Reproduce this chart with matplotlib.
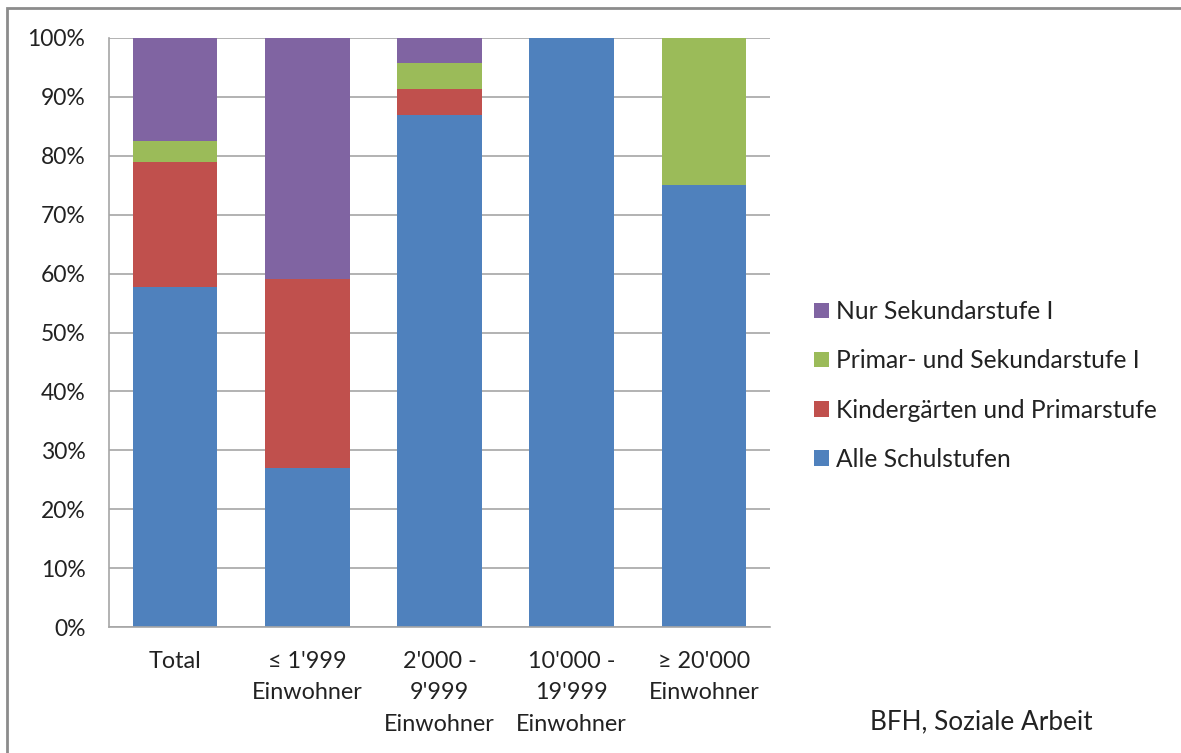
import matplotlib.pyplot as plt
from matplotlib.patches import Rectangle

plt.rcParams["font.family"] = ["Lato", "DejaVu Sans"]

# Data (shares in %)
categories = ["Total", "≤ 1'999\nEinwohner", "2'000 -\n9'999\nEinwohner",
              "10'000 -\n19'999\nEinwohner", "≥ 20'000\nEinwohner"]
alle = [57.7, 27.0, 86.9, 100.0, 75.0]
kinder = [21.2, 32.1, 4.4, 0.0, 0.0]
primar_sek = [3.6, 0.0, 4.5, 0.0, 25.0]
nur_sek = [17.5, 40.9, 4.2, 0.0, 0.0]

series = [
    ("Alle Schulstufen", alle, "#4f81bd"),
    ("Kindergärten und Primarstufe", kinder, "#c0504d"),
    ("Primar- und Sekundarstufe I", primar_sek, "#9bbb59"),
    ("Nur Sekundarstufe I", nur_sek, "#8064a2"),
]

fig = plt.figure(figsize=(11.81, 7.53), dpi=100)
ax = fig.add_axes([109 / 1181, 1 - 627 / 753, (770 - 109) / 1181, (627 - 38) / 753])

x = range(len(categories))
bottom = [0.0] * len(categories)
for name, vals, color in series:
    ax.bar(x, vals, width=0.64, bottom=bottom, color=color, label=name, zorder=2)
    bottom = [b + v for b, v in zip(bottom, vals)]

ax.set_xlim(-0.5, 4.5)
ax.set_ylim(0, 100)
ax.set_yticks(range(0, 101, 10))
ax.set_yticklabels([f"{t}%" for t in range(0, 101, 10)], fontsize=16.5)
ax.set_xticks(list(x))
ax.set_xticklabels(categories, linespacing=1.63, va="top", fontsize=16.8)
ax.tick_params(length=0, colors="#222222")
ax.tick_params(axis="y", pad=17)
ax.tick_params(axis="x", pad=17)
ax.yaxis.grid(True, color="#a6a6a6", linewidth=1.2, zorder=0)
for s in ["top", "right"]:
    ax.spines[s].set_visible(False)
for s in ["left", "bottom"]:
    ax.spines[s].set_color("#a6a6a6")
    ax.spines[s].set_linewidth(1.2)

handles, labels = ax.get_legend_handles_labels()
ax.legend(handles[::-1], labels[::-1], loc="center left", bbox_to_anchor=(1.033, 0.41),
          frameon=False, fontsize=17.7, handlelength=0.6, handleheight=0.6,
          handletextpad=0.3, labelspacing=1.07, labelcolor="#222222")

fig.text(870 / 1181, 1 - 722 / 753, "BFH, Soziale Arbeit", fontsize=18.8,
         color="#222222", va="center", ha="left")

# outer frame (left and top edges visible)
fig.add_artist(Rectangle((7 / 1181, -0.1), 1.2, 1 - 8 / 753 + 0.1, transform=fig.transFigure,
                         fill=False, edgecolor="#8c8c8c", linewidth=2))

fig.savefig("out.png", dpi=100)
